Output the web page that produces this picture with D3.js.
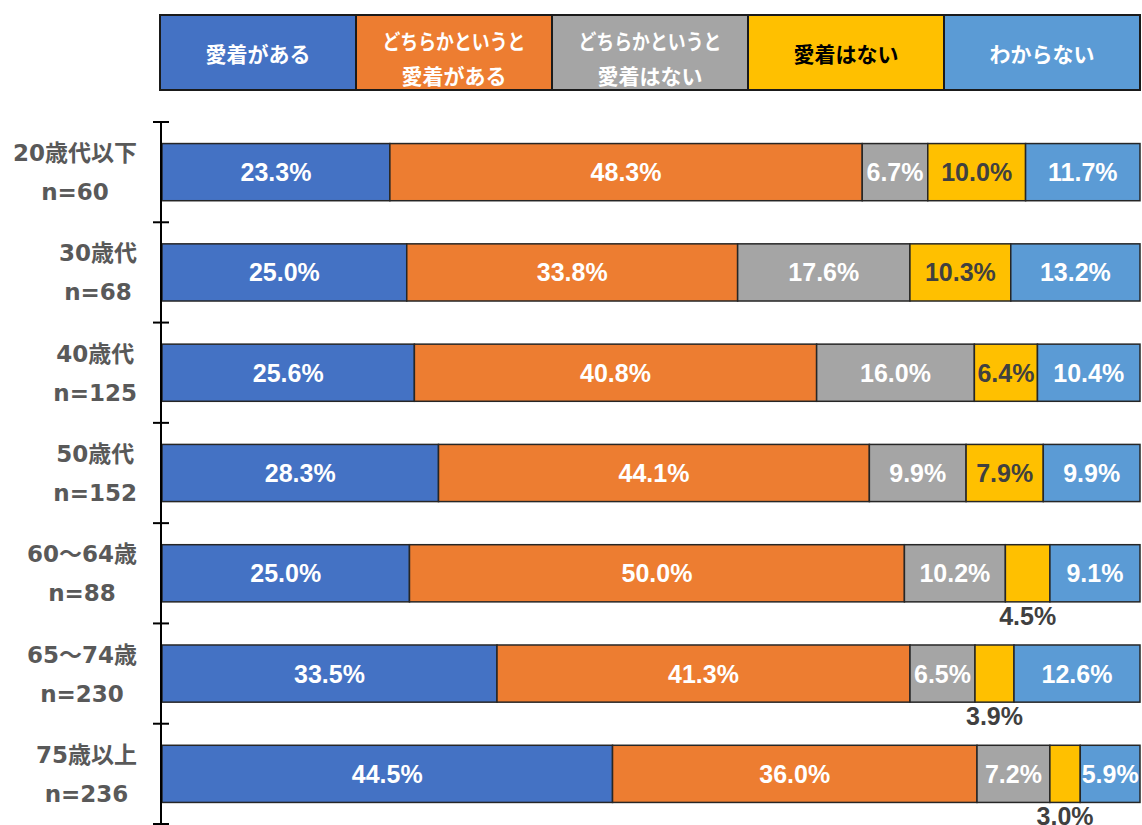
<!DOCTYPE html>
<html>
<head>
<meta charset="utf-8">
<script src="https://cdn.jsdelivr.net/npm/d3@7"></script>
<style>
  html, body { margin: 0; padding: 0; background: #fff; }
  svg { display: block; }
  .jp { font-family: "Noto Sans CJK JP", "Noto Sans", sans-serif; font-weight: 700; }
  .cat { font-family: "DejaVu Sans", "Noto Sans CJK JP", sans-serif; font-weight: 700; }
  .num { font-family: "Liberation Sans", Arial, sans-serif; font-weight: 700; }
</style>
</head>
<body>
<svg id="chart" width="1142" height="825"></svg>
<script>
// Age groups (two-line labels) and response shares (%)
const groups = ["20歳代以下", "30歳代", "40歳代", "50歳代", "60〜64歳", "65〜74歳", "75歳以上"];
const sampleSizes = ["n=60", "n=68", "n=125", "n=152", "n=88", "n=230", "n=236"];
const seriesNames = ["愛着がある", "どちらかというと\n愛着がある", "どちらかというと\n愛着はない", "愛着はない", "わからない"];
const seriesColors = ["#4472C4", "#ED7D31", "#A5A5A5", "#FFC000", "#5B9BD5"];
const seriesTextColors = ["#ffffff", "#ffffff", "#ffffff", "#000000", "#ffffff"];

const attached         = [23.3, 25.0, 25.6, 28.3, 25.0, 33.5, 44.5];
const somewhatAttached = [48.3, 33.8, 40.8, 44.1, 50.0, 41.3, 36.0];
const somewhatNot      = [6.7, 17.6, 16.0, 9.9, 10.2, 6.5, 7.2];
const notAttached      = [10.0, 10.3, 6.4, 7.9, 4.5, 3.9, 3.0];
const unknown          = [11.7, 13.2, 10.4, 9.9, 9.1, 12.6, 5.9];

const series = [attached, somewhatAttached, somewhatNot, notAttached, unknown];

const svg = d3.select("#chart");

// ---- Legend: a row of colored boxes ----
const legendX = d3.scaleBand().domain(d3.range(seriesNames.length)).range([160, 1140]).padding(0);
const legend = svg.append("g");
const lg = legend.selectAll("g").data(seriesNames).join("g")
  .attr("transform", (d, i) => `translate(${legendX(i)},15)`);
lg.append("rect")
  .attr("width", legendX.bandwidth()).attr("height", 75)
  .attr("fill", (d, i) => seriesColors[i])
  .attr("stroke", "#1a1a1a").attr("stroke-width", 2);
lg.each(function (d, i) {
  const lines = d.split("\n");
  const t = d3.select(this).append("text")
    .attr("class", "jp")
    .attr("text-anchor", "middle")
    .attr("font-size", 21)
    .attr("fill", seriesTextColors[i]);
  const ys = lines.length === 1 ? [38] : [25, 60];
  lines.forEach((ln, k) => {
    const ts = t.append("tspan")
      .attr("x", legendX.bandwidth() / 2)
      .attr("y", ys[k])
      .attr("dominant-baseline", "central")
      .text(ln);
    // long kana line is set slightly condensed
    if (ln.length > 6) ts.attr("textLength", 143).attr("lengthAdjust", "spacingAndGlyphs");
  });
});

// ---- Scales ----
const x = d3.scaleLinear().domain([0, 1]).range([162, 1140]);
const y = d3.scaleBand().domain(groups).range([122, 824]).paddingInner(0.43).paddingOuter(0.215);

// Stack rows normalised to 100%
const rows = groups.map((g, gi) => {
  const vals = series.map(s => s[gi]);
  const total = d3.sum(vals);
  let acc = 0;
  return vals.map((v, si) => {
    const seg = { group: g, si, value: v, x0: acc / total, x1: (acc + v) / total };
    acc += v;
    return seg;
  });
});

// ---- Bars ----
const barG = svg.append("g");
rows.forEach(row => {
  barG.selectAll(null).data(row).join("rect")
    .attr("x", d => x(d.x0))
    .attr("y", d => y(d.group))
    .attr("width", d => x(d.x1) - x(d.x0))
    .attr("height", y.bandwidth())
    .attr("fill", d => seriesColors[d.si])
    .attr("stroke", "#262626")
    .attr("stroke-width", 1.5);
});

// ---- Value labels (narrow segments get their label under the bar) ----
const labelG = svg.append("g").attr("class", "num").attr("font-size", 25).attr("text-anchor", "middle");
rows.forEach(row => {
  labelG.selectAll(null).data(row).join("text")
    .attr("x", d => (x(d.x0) + x(d.x1)) / 2)
    .attr("y", d => d.value < 5 ? y(d.group) + y.bandwidth() + 14 : y(d.group) + y.bandwidth() / 2)
    .attr("dominant-baseline", "central")
    .attr("fill", d => d.value < 5 ? "#404040" : (d.si === 3 ? "#404040" : "#ffffff"))
    .text(d => d.value.toFixed(1) + "%");
});

// ---- Category axis ----
const axisG = svg.append("g");
axisG.append("line")
  .attr("x1", 161).attr("x2", 161)
  .attr("y1", y.range()[0]).attr("y2", y.range()[1])
  .attr("stroke", "#000").attr("stroke-width", 2);
const tickYs = d3.range(groups.length + 1).map(i => y.range()[0] + i * y.step());
axisG.selectAll(".tick").data(tickYs).join("line")
  .attr("x1", 153).attr("x2", 169)
  .attr("y1", d => d).attr("y2", d => d)
  .attr("stroke", "#000").attr("stroke-width", 2);

// Two-line group labels, centered as a block that ends at the axis gutter
const catG = svg.append("g");
groups.forEach((g, i) => {
  const cy = y(g) + y.bandwidth() / 2;
  const t = catG.append("text")
    .attr("class", "cat")
    .attr("font-size", 23)
    .attr("fill", "#595959")
    .attr("text-anchor", "middle");
  const l1 = t.append("tspan").attr("y", cy - 19).attr("dominant-baseline", "central").text(g);
  const l2 = t.append("tspan").attr("y", cy + 20).attr("dominant-baseline", "central").text(sampleSizes[i]);
  const w = Math.max(l1.node().getComputedTextLength(), l2.node().getComputedTextLength());
  const cx = 137 - w / 2;
  l1.attr("x", cx);
  l2.attr("x", cx);
});
</script>
</body>
</html>
